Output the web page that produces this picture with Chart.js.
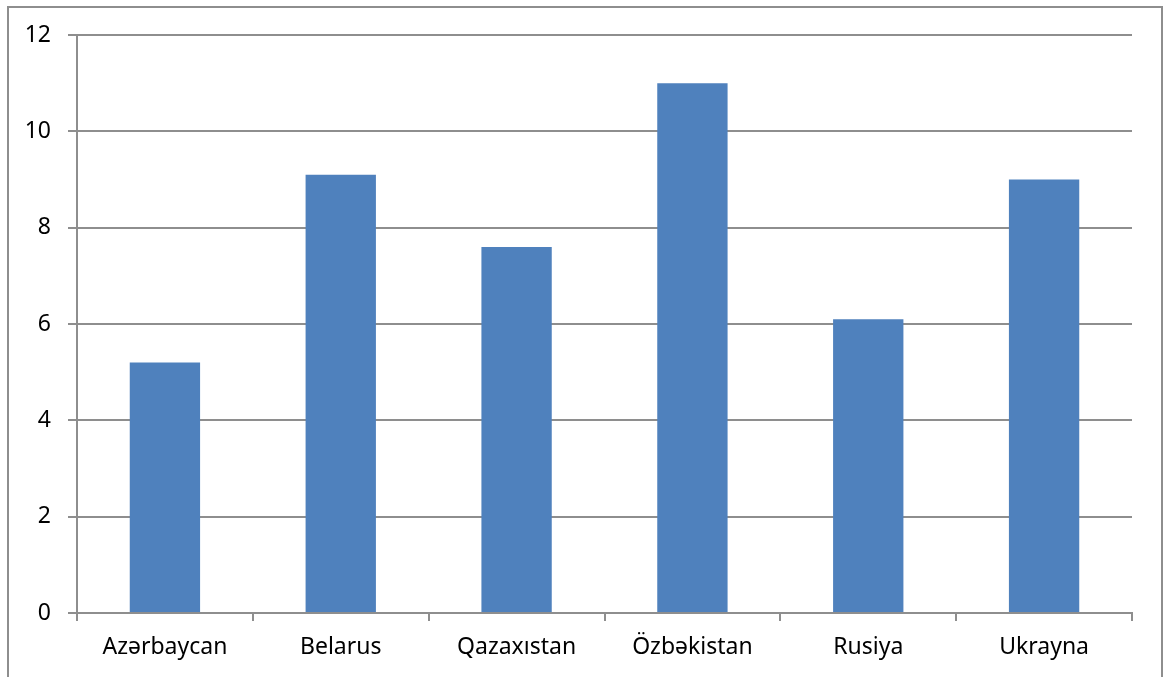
<!DOCTYPE html>
<html>
<head>
<meta charset="utf-8">
<title>Ölkələr</title>
<script src="https://cdn.jsdelivr.net/npm/chart.js@4/dist/chart.umd.min.js"></script>
<style>
    html, body { margin: 0; padding: 0; background: #fff; overflow: hidden; }
    .frame {
        position: absolute;
        left: 7px; top: 6px;
        width: 1152px; height: 720px;
        border: 2px solid #8e8e8e;
        border-bottom: none;
    }
    .chart-box {
        position: absolute;
        left: 0; top: 0;
        width: 1166px; height: 677px;
    }
</style>
</head>
<body>
<div class="frame"></div>
<div class="chart-box"><canvas id="bar-chart"></canvas></div>
<script>
// Data
const countries = ['Azərbaycan', 'Belarus', 'Qazaxıstan', 'Özbəkistan', 'Rusiya', 'Ukrayna'];
const values = [5.2, 9.1, 7.6, 11.0, 6.1, 9.0];
const yTicks = [0, 2, 4, 6, 8, 10, 12];

const gridGray = '#8e8e8e';
const labelFont = { family: '"Noto Sans", "Open Sans", sans-serif', size: 23 };

const ctx = document.getElementById('bar-chart').getContext('2d');

new Chart(ctx, {
    type: 'bar',
    data: {
        labels: countries,
        datasets: [{
            data: values,
            backgroundColor: '#4f81bd',
            borderWidth: 0,
            barPercentage: 0.4,
            categoryPercentage: 1.0
        }]
    },
    options: {
        responsive: true,
        maintainAspectRatio: false,
        animation: false,
        layout: {
            padding: { top: 35, right: 34, left: 0, bottom: 0 }
        },
        plugins: {
            legend: { display: false },
            tooltip: { enabled: false }
        },
        scales: {
            x: {
                grid: {
                    offset: true,
                    drawOnChartArea: false,
                    drawTicks: true,
                    tickLength: 8,
                    color: gridGray,
                    lineWidth: 2
                },
                border: { color: gridGray, width: 2 },
                ticks: {
                    color: '#000',
                    font: labelFont,
                    padding: 13,
                    maxRotation: 0
                },
                afterFit: scale => { scale.height = 64; }
            },
            y: {
                min: 0,
                max: 12,
                afterBuildTicks: scale => {
                    scale.ticks = yTicks.map(v => ({ value: v }));
                },
                grid: {
                    color: gridGray,
                    lineWidth: 2,
                    tickLength: 9
                },
                border: { color: gridGray, width: 2 },
                ticks: {
                    color: '#000',
                    font: labelFont,
                    padding: 17
                },
                afterFit: scale => { scale.width = 77; }
            }
        }
    }
});
</script>
</body>
</html>
